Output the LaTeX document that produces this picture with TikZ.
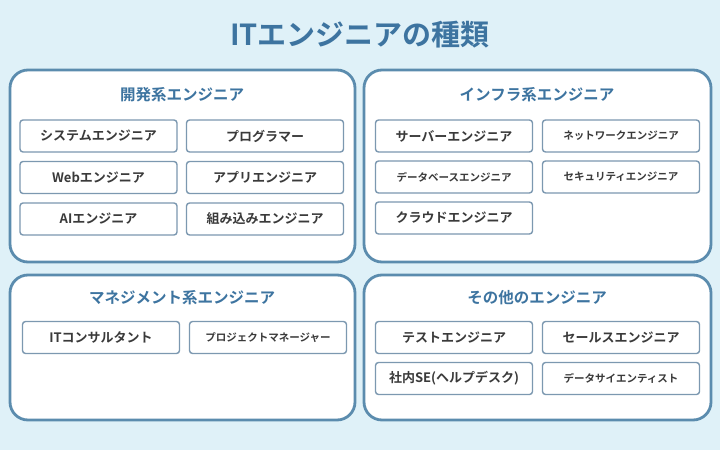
\documentclass[tikz,border=0pt]{standalone}
\usepackage{fontspec}
\newfontfamily\jp{Noto Sans CJK JP}[BoldFont={Noto Sans CJK JP Bold}]
\usepackage{xcolor}
\usepackage{tikz}
\definecolor{bgblue}{HTML}{DFF1F8}
\definecolor{frameblue}{HTML}{5B8CAE}
\definecolor{titleblue}{HTML}{3D74A0}
\definecolor{boxline}{HTML}{7C98B0}
\definecolor{textgray}{HTML}{3A3A3A}

\begin{document}
\begin{tikzpicture}[x=1pt,y=-1pt,
panel/.style={draw=frameblue,line width=2.8pt,fill=white,rounded corners=18pt},
ptitle/.style={font=\jp\bfseries\fontsize{15.5}{18}\selectfont,text=titleblue},
job/.style={draw=boxline,line width=1.4pt,fill=white,rounded corners=3pt,
  minimum width=157pt,minimum height=32pt,inner sep=0pt,
  font=\jp\bfseries\fontsize{13}{15}\selectfont,text=textgray},
jobs/.style={job,font=\jp\bfseries\fontsize{10.5}{12}\selectfont},
]
\fill[bgblue] (0,0) rectangle (720,450);

\node[font=\jp\bfseries\fontsize{29}{33}\selectfont,text=titleblue] (title) at (360,35) {ITエンジニアの種類};

% panels
\draw[panel] (10,70) rectangle (355,262);
\draw[panel] (364,70) rectangle (711,262);
\draw[panel] (10,275) rectangle (355,420);
\draw[panel] (364,275) rectangle (711,420);

\node[ptitle] (dev) at (182,95) {開発系エンジニア};
\node[ptitle] (infra) at (537,95) {インフラ系エンジニア};
\node[ptitle] (mgmt) at (182,298) {マネジメント系エンジニア};
\node[ptitle] (other) at (537,298) {その他のエンジニア};

% development
\node[job] (sys) at (98.5,136) {システムエンジニア};
\node[job] (prog) at (265,136) {プログラマー};
\node[job] (web) at (98.5,177.5) {Webエンジニア};
\node[job] (app) at (265,177.5) {アプリエンジニア};
\node[job] (ai) at (98.5,219) {AIエンジニア};
\node[job] (emb) at (265,219) {組み込みエンジニア};

% infrastructure
\node[job] (server) at (454,136) {サーバーエンジニア};
\node[jobs] (net) at (621,136) {ネットワークエンジニア};
\node[jobs] (db) at (454,177) {データベースエンジニア};
\node[jobs] (sec) at (621,177) {セキュリティエンジニア};
\node[job] (cloud) at (454,218) {クラウドエンジニア};

% management
\node[job] (itc) at (101,337.5) {ITコンサルタント};
\node[jobs] (pm) at (268,337.5) {プロジェクトマネージャー};

% others
\node[job] (test) at (454,337.5) {テストエンジニア};
\node[job] (sales) at (621,337.5) {セールスエンジニア};
\node[job] (help) at (454,378.5) {社内SE(ヘルプデスク)};
\node[jobs] (ds) at (621,378.5) {データサイエンティスト};
\end{tikzpicture}
\end{document}
